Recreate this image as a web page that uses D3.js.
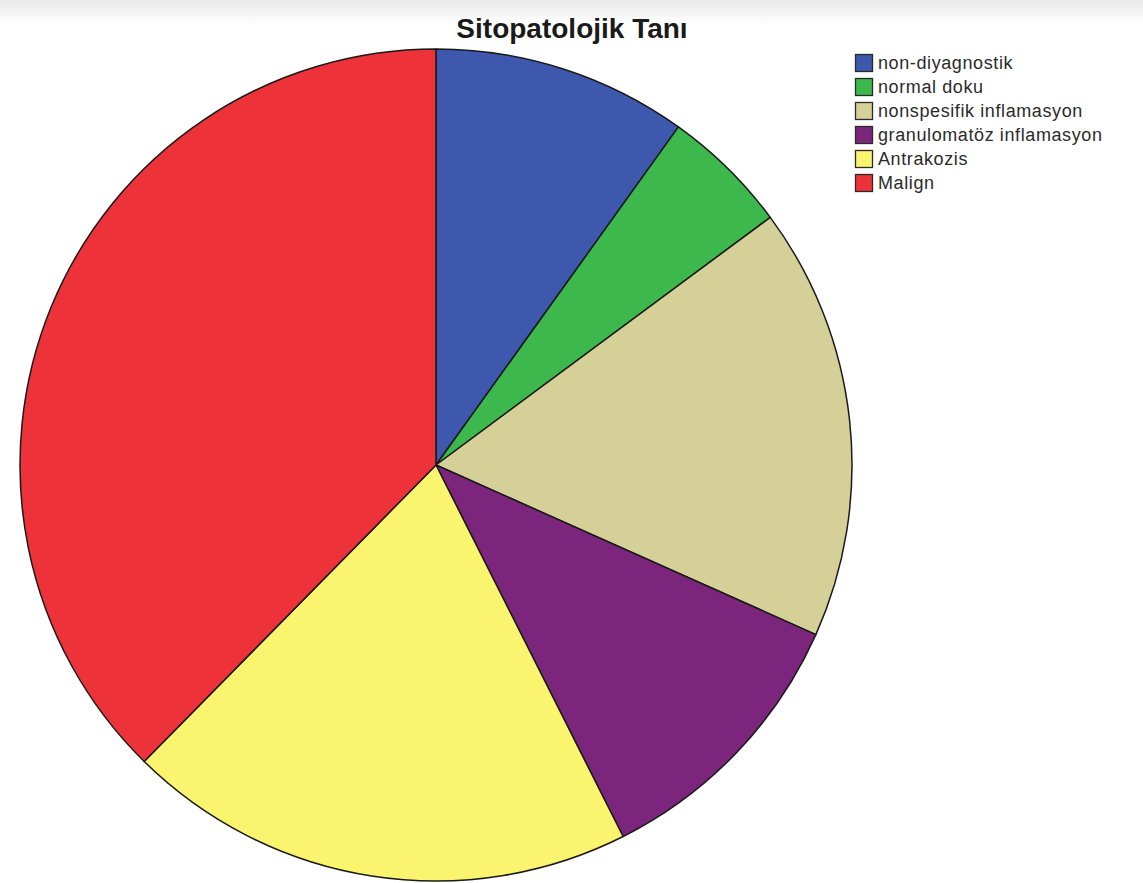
<!DOCTYPE html>
<html>
<head>
<meta charset="utf-8">
<script src="https://cdn.jsdelivr.net/npm/d3@7"></script>
<style>
  html, body { margin: 0; padding: 0; background: #fff; }
  svg { display: block; }
</style>
</head>
<body>
<script>
// Sitopatolojik tanı dağılımı (olgu sayıları)
const categories = ["non-diyagnostik", "normal doku", "nonspesifik inflamasyon", "granulomatöz inflamasyon", "Antrakozis", "Malign"];
const counts = [10, 5, 17, 11, 20, 38];
const colors = ["#3d58ad", "#3cb84c", "#d5cf98", "#7b267c", "#fbf46e", "#ee3239"];
const title = "Sitopatolojik Tanı";

const W = 1143, H = 883;
const svg = d3.select("body").append("svg").attr("width", W).attr("height", H);

// faint grey band along the top edge
const defs = svg.append("defs");
const grad = defs.append("linearGradient").attr("id", "topband").attr("x1", 0).attr("y1", 0).attr("x2", 0).attr("y2", 1);
grad.append("stop").attr("offset", "0%").attr("stop-color", "#e8e8e8");
grad.append("stop").attr("offset", "100%").attr("stop-color", "#ffffff");
svg.append("rect").attr("x", 0).attr("y", 0).attr("width", W).attr("height", 24).attr("fill", "url(#topband)");

// title
svg.append("text")
  .attr("x", 572).attr("y", 38)
  .attr("text-anchor", "middle")
  .attr("font-family", "Liberation Sans, Arial, sans-serif")
  .attr("font-weight", "bold")
  .attr("font-size", 28)
  .attr("fill", "#1a1a1a")
  .text(title);

// pie
const data = categories.map((c, i) => ({ name: c, value: counts[i], color: colors[i] }));
const cx = 436, cy = 465, R = 416;
const pie = d3.pie().value(d => d.value).sort(null);
const arc = d3.arc().innerRadius(0).outerRadius(R);

const g = svg.append("g").attr("transform", `translate(${cx},${cy})`);
g.selectAll("path")
  .data(pie(data))
  .join("path")
  .attr("d", arc)
  .attr("fill", d => d.data.color)
  .attr("stroke", "#1a1a1a")
  .attr("stroke-width", 1.5)
  .attr("stroke-linejoin", "round");

// legend
const legend = svg.append("g").attr("transform", "translate(855,54)");
const rowH = 24;
const rows = legend.selectAll("g")
  .data(data)
  .join("g")
  .attr("transform", (d, i) => `translate(0,${i * rowH})`);

rows.append("rect")
  .attr("x", 0.5).attr("y", 0.5)
  .attr("width", 17).attr("height", 17)
  .attr("fill", d => d.color)
  .attr("stroke", "#2a2a2a")
  .attr("stroke-width", 1.3);

rows.append("text")
  .attr("x", 23).attr("y", 15)
  .attr("font-family", "Liberation Sans, Arial, sans-serif")
  .attr("font-size", 18)
  .attr("letter-spacing", 0.6)
  .attr("fill", "#2b2b2b")
  .text(d => d.name);
</script>
</body>
</html>
